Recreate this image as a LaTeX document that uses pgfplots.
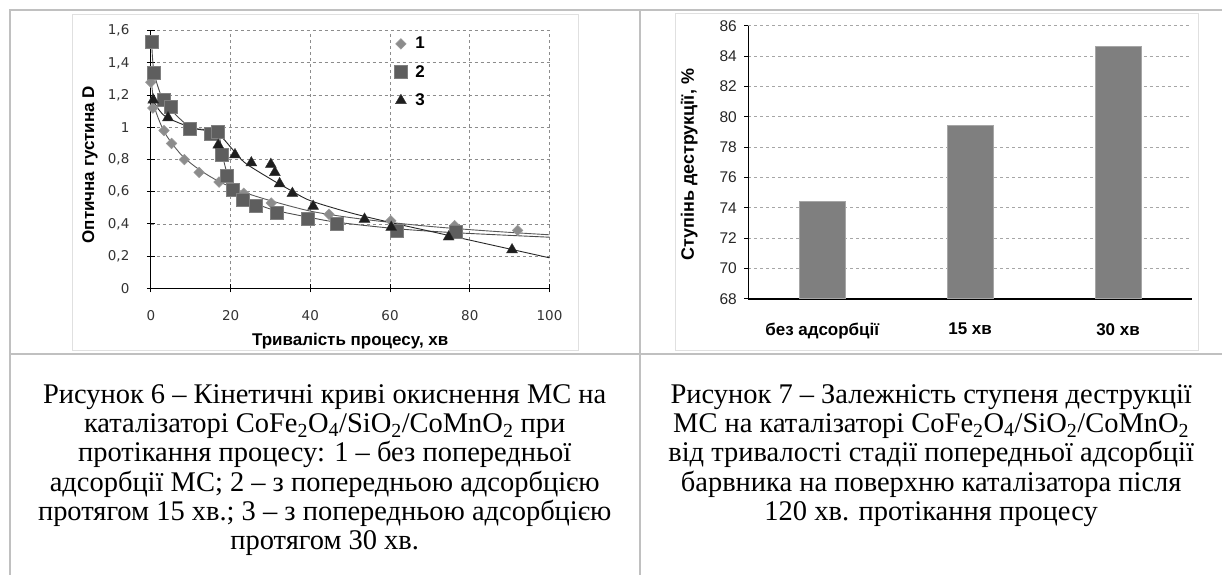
\documentclass[border=0pt]{standalone}
\usepackage{fontspec}
\setmainfont{Liberation Serif}
\newfontfamily\sans{Liberation Sans}
\newfontfamily\vsans{DejaVu Sans}
\usepackage{pgfplots}
\pgfplotsset{compat=1.18}

\definecolor{tbl}{HTML}{C0C0C0}
\definecolor{diam}{HTML}{8C8C8C}
\definecolor{sq}{HTML}{5E5E5E}
\definecolor{tri}{HTML}{1E1E1E}
\definecolor{barg}{HTML}{7F7F7F}

\begin{document}
\begin{tikzpicture}
\fill[white] (0pt,0pt) rectangle (1223pt,-576pt);
% table frame
\draw[tbl, line width=2.2pt] (9pt,-10pt) -- (1223pt,-10pt);
\draw[tbl, line width=2.2pt] (10pt,-10pt) -- (10pt,-576pt);
\draw[tbl, line width=2.2pt] (640.5pt,-10pt) -- (640.5pt,-576pt);
\draw[tbl, line width=2.2pt] (10pt,-354.5pt) -- (1223pt,-354.5pt);
% chart areas
\draw[black!12, line width=0.8pt] (72.7pt,-14pt) rectangle (579pt,-351pt);
\draw[black!12, line width=0.8pt] (675.5pt,-13pt) rectangle (1199pt,-351pt);

% ---- Figure 6: kinetic curves
\begin{axis}[
  at={(151pt,-288.7pt)}, anchor=south west,
  scale only axis, width=399pt, height=258pt,
  xmin=0, xmax=100, ymin=0, ymax=1.6,
  xtick={0,20,40,60,80,100},
  ytick={0,0.2,0.4,0.6,0.8,1,1.2,1.4,1.6},
  axis x line*=bottom, axis y line*=left,
  axis line style={-, black, line width=1.2pt},
  tick align=center, major tick length=8pt,
  tick style={black, line width=1pt},
  grid=major, grid style={dashed, black!45, line width=0.8pt},
  /pgf/number format/use comma,
  /pgf/number format/assume math mode=true,
  ticklabel style={font=\vsans\fontsize{13.5}{13.5}\selectfont, text=black!80},
  xticklabel shift=15pt, yticklabel shift=14pt,
  xlabel={Тривалість процесу, хв},
  ylabel={Оптична густина D},
  every axis x label/.style={at={(axis description cs:0.5,-0.205)}, anchor=center,
    font=\sans\bfseries\fontsize{17}{17}\selectfont},
  every axis y label/.style={at={(axis description cs:-0.153,0.48)}, anchor=center, rotate=90,
    font=\sans\bfseries\fontsize{17}{17}\selectfont},
  legend style={at={(axis cs:60.3,1.585)}, anchor=north west, draw=none, fill=none,
    font=\sans\bfseries\fontsize{17}{17}\selectfont, row sep=11pt,
    nodes={inner xsep=8pt}},
  legend cell align=left,
]
\addplot[only marks, mark=square*, mark size=3.7pt,
  mark options={rotate=45, fill=diam, draw=black!40, line width=0.6pt}]
  coordinates {(0,1.28)(0.5,1.12)(3.3,0.98)(5.2,0.90)(8.4,0.80)(12.1,0.72)(17.1,0.66)
  (23.3,0.59)(30.2,0.53)(44.7,0.46)(60.2,0.42)(76.2,0.39)(92,0.36)};
\addlegendentry{1}
\addplot[only marks, mark=square*, mark size=6.5pt,
  mark options={fill=sq, draw=black!50, line width=0.6pt}]
  coordinates {(0.2,1.53)(0.8,1.34)(3.3,1.17)(5,1.13)(9.8,0.99)(15,0.96)(16.7,0.97)
  (17.7,0.83)(19,0.70)(20.5,0.61)(23.1,0.55)(26.3,0.51)(31.7,0.47)(39.4,0.43)
  (46.7,0.40)(61.7,0.36)(76.6,0.35)};
\addlegendentry{2}
\addplot[only marks, mark=triangle*, mark size=6.3pt,
  mark options={fill=tri, draw=black!80, line width=0.4pt}]
  coordinates {(0.6,1.17)(4.3,1.06)(16.9,0.89)(21.1,0.83)(25.2,0.78)(30.1,0.77)(31.1,0.72)
  (32.3,0.65)(35.5,0.59)(40.7,0.51)(53.6,0.43)(60.3,0.38)(74.7,0.32)(90.6,0.24)};
\addlegendentry{3}
% trend lines
\addplot[forget plot, smooth, black!65, line width=0.9pt]
  coordinates {(0.2,1.27)(1,1.12)(3,0.99)(5,0.91)(8,0.82)(12,0.74)(17,0.665)(23,0.60)
  (30,0.545)(40,0.48)(50,0.44)(60,0.41)(70,0.385)(80,0.365)(90,0.348)(100,0.333)};
\addplot[forget plot, smooth, black!70, line width=0.9pt]
  coordinates {(0.2,1.53)(0.8,1.34)(3,1.17)(5,1.11)(10,1.0)(16.5,0.97)(18,0.82)(19.5,0.68)
  (21,0.61)(24,0.56)(28,0.51)(32,0.48)(40,0.44)(47,0.41)(62,0.37)(77,0.345)(100,0.318)};
\addplot[forget plot, smooth, black!85, line width=0.9pt]
  coordinates {(0.5,1.17)(3.5,1.07)(10.6,0.995)(16.5,0.965)(20.6,0.86)(23.6,0.78)(30,0.68)
  (35,0.61)(40,0.545)(50,0.47)(60,0.41)(70,0.355)(80,0.30)(90,0.245)(100,0.19)};
\end{axis}

% ---- Figure 7: degree of destruction
\begin{axis}[
  at={(749pt,-299pt)}, anchor=south west,
  scale only axis, width=444pt, height=273.3pt,
  xmin=0, xmax=3, ymin=68, ymax=86,
  xtick={0.5,1.5,2.5},
  xticklabels={без адсорбції, 15 хв, 30 хв},
  ytick={68,70,72,74,76,78,80,82,84,86},
  axis x line*=bottom, axis y line*=left,
  axis line style={-, black, line width=1.6pt},
  x tick style={draw=none}, y tick style={black, line width=1pt},
  major tick length=4pt, tick align=outside,
  ymajorgrids, grid style={dashed, black!35, line width=0.7pt},
  /pgf/number format/assume math mode=true,
  yticklabel style={font=\sans\fontsize{15.5}{15.5}\selectfont, text=black!85},
  xticklabel style={font=\sans\bfseries\fontsize{17}{17}\selectfont},
  xticklabel shift=17pt, yticklabel shift=4pt,
  ylabel={Ступінь деструкції, \%},
  every axis y label/.style={at={(axis description cs:-0.133,0.49)}, anchor=center, rotate=90,
    font=\sans\bfseries\fontsize{18}{18}\selectfont},
]
\addplot[ybar, bar width=46pt, fill=barg, draw=black!35, line width=0.6pt]
  coordinates {(0.5,74.4)(1.5,79.4)(2.5,84.65)};
\end{axis}

% captions
\node[anchor=north, align=center, font=\fontsize{28.5}{29.4}\selectfont] at (325pt,-381pt)
  {Рисунок 6 – Кінетичні криві окиснення МС на\\
   каталізаторі CoFe\textsubscript{2}O\textsubscript{4}/SiO\textsubscript{2}/CoMnO\textsubscript{2} при\\
   протікання процесу: 1 – без попередньої\\
   адсорбції МС; 2 – з попередньою адсорбцією\\
   протягом 15 хв.; 3 – з попередньою адсорбцією\\
   протягом 30 хв.};
\node[anchor=north, align=center, font=\fontsize{28.5}{29.4}\selectfont] at (932pt,-381pt)
  {Рисунок 7 – Залежність ступеня деструкції\\
   МС на каталізаторі CoFe\textsubscript{2}O\textsubscript{4}/SiO\textsubscript{2}/CoMnO\textsubscript{2}\\
   від тривалості стадії попередньої адсорбції\\
   барвника на поверхню каталізатора після\\
   120 хв. протікання процесу};
\end{tikzpicture}
\end{document}
